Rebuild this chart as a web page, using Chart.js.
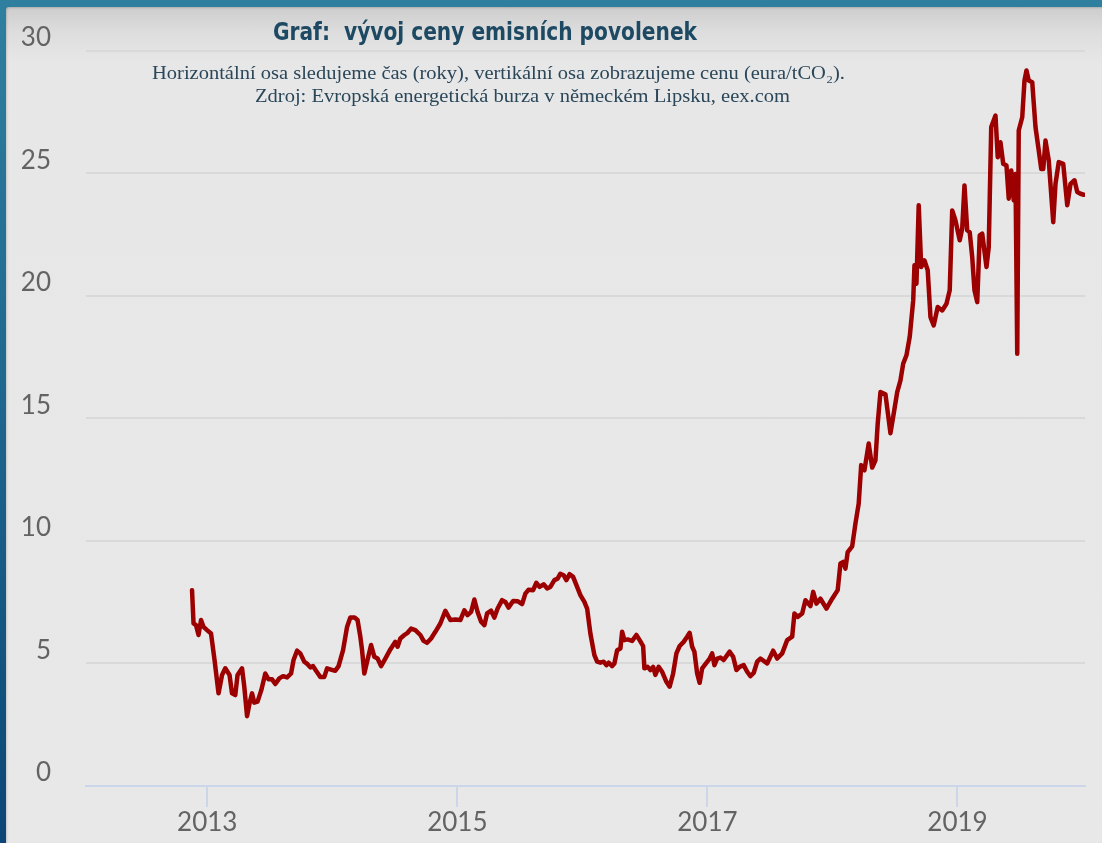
<!DOCTYPE html>
<html lang="cs">
<head>
<meta charset="utf-8">
<title>Graf: vývoj ceny emisních povolenek</title>
<script src="https://cdn.jsdelivr.net/npm/chart.js@4.4.1/dist/chart.umd.min.js"></script>
<style>
    html, body {
        margin: 0;
        padding: 0;
    }
    body {
        width: 1102px;
        height: 843px;
        overflow: hidden;
        position: relative;
        background: linear-gradient(180deg, #2f7f9f 0%, #1f6890 45%, #0b4676 100%);
    }
    #panel {
        position: absolute;
        left: 6px;
        top: 7px;
        right: 0;
        bottom: 0;
        border-top-left-radius: 3px;
        background: linear-gradient(180deg, #cdcdcd 0px, #dddddd 25px, #e7e7e7 55px, #e8e8e8 100%);
        box-shadow: inset 1px 1px 2px rgba(0, 0, 0, 0.15);
    }
    #chart {
        position: absolute;
        left: 0;
        top: 0;
    }
    .label {
        position: absolute;
        white-space: nowrap;
        transform-origin: left top;
    }
    #title {
        font-family: "Liberation Sans Narrow", "DejaVu Sans Condensed", "Liberation Sans", Arial, sans-serif;
        font-stretch: condensed;
        font-weight: bold;
        font-size: 24px;
        line-height: 24px;
        color: #1d4963;
    }
    .sub {
        font-family: "Liberation Serif", "Times New Roman", serif;
        font-size: 18px;
        line-height: 18px;
        color: #2a4659;
    }
</style>
</head>
<body>
<div id="panel"></div>
<canvas id="chart" width="1102" height="843"></canvas>
<div id="title" class="label">Graf:&nbsp; vývoj ceny emisních povolenek</div>
<div id="sub1" class="label sub">Horizontální osa sledujeme čas (roky), vertikální osa zobrazujeme cenu (eura/tCO₂).</div>
<div id="sub2" class="label sub">Zdroj: Evropská energetická burza v německém Lipsku, eex.com</div>

<script>
// data: time as decimal year, price in eura/tCO2
var years = [
    2012.878, 2012.890, 2012.910, 2012.930, 2012.950, 2012.970, 2012.998,
    2013.030, 2013.058, 2013.090, 2013.118, 2013.144, 2013.178, 2013.198, 2013.224, 2013.242, 2013.278,
    2013.296, 2013.318, 2013.338, 2013.358, 2013.376, 2013.402, 2013.432, 2013.464, 2013.490, 2013.518,
    2013.544, 2013.576, 2013.606, 2013.638, 2013.670, 2013.690, 2013.718, 2013.744, 2013.776, 2013.802,
    2013.824, 2013.846, 2013.870, 2013.904, 2013.936, 2013.958, 2013.990,
    2014.024, 2014.050, 2014.086, 2014.118, 2014.144, 2014.178, 2014.202, 2014.224, 2014.238, 2014.256,
    2014.278, 2014.310, 2014.336, 2014.362, 2014.390, 2014.424, 2014.464, 2014.504, 2014.522, 2014.544,
    2014.576, 2014.602, 2014.630, 2014.664, 2014.704, 2014.730, 2014.758, 2014.790, 2014.824, 2014.864,
    2014.904, 2014.944, 2014.984,
    2015.024, 2015.056, 2015.082, 2015.110, 2015.136, 2015.162, 2015.190, 2015.216, 2015.238, 2015.270,
    2015.296, 2015.322, 2015.358, 2015.384, 2015.410, 2015.446, 2015.482, 2015.518, 2015.544, 2015.570,
    2015.606, 2015.632, 2015.658, 2015.690, 2015.718, 2015.744, 2015.776, 2015.802, 2015.824, 2015.850,
    2015.872, 2015.898, 2015.926, 2015.958, 2015.984,
    2016.016, 2016.038, 2016.064, 2016.096, 2016.118, 2016.144, 2016.170, 2016.192, 2016.210, 2016.238,
    2016.256, 2016.278, 2016.304, 2016.318, 2016.336, 2016.362, 2016.398, 2016.432, 2016.458, 2016.486,
    2016.496, 2016.522, 2016.544, 2016.566, 2016.584, 2016.610, 2016.638, 2016.672, 2016.698, 2016.726,
    2016.752, 2016.778, 2016.810, 2016.838, 2016.858, 2016.878, 2016.896, 2016.918, 2016.938, 2016.958,
    2016.984,
    2017.018, 2017.038, 2017.056, 2017.078, 2017.104, 2017.130, 2017.158, 2017.178, 2017.206, 2017.232,
    2017.258, 2017.290, 2017.318, 2017.344, 2017.370, 2017.398, 2017.424, 2017.478, 2017.526, 2017.558,
    2017.598, 2017.638, 2017.678, 2017.696, 2017.722, 2017.758, 2017.784, 2017.824, 2017.846, 2017.872,
    2017.904, 2017.952, 2017.998,
    2018.042, 2018.064, 2018.086, 2018.104, 2018.122, 2018.158, 2018.184, 2018.210, 2018.230, 2018.256,
    2018.290, 2018.318, 2018.344, 2018.362, 2018.384, 2018.424, 2018.464, 2018.490, 2018.518, 2018.544,
    2018.566, 2018.592, 2018.618, 2018.646, 2018.656, 2018.672, 2018.690, 2018.710, 2018.736, 2018.762,
    2018.784, 2018.810, 2018.842, 2018.878, 2018.912, 2018.938, 2018.958, 2018.984,
    2019.018, 2019.038, 2019.056, 2019.078, 2019.098, 2019.118, 2019.136, 2019.158, 2019.178, 2019.198,
    2019.232, 2019.250, 2019.270, 2019.304, 2019.322, 2019.344, 2019.366, 2019.392, 2019.410, 2019.430,
    2019.450, 2019.464, 2019.478, 2019.490, 2019.518, 2019.536, 2019.552, 2019.570, 2019.598, 2019.624,
    2019.650, 2019.670, 2019.686, 2019.704, 2019.730, 2019.766, 2019.784, 2019.810, 2019.846, 2019.878,
    2019.904, 2019.936, 2019.958, 2019.984, 2020.010
];

var prices = [
    7.99, 6.63, 6.56, 6.16, 6.77, 6.49, 6.36,
    6.22, 5.14, 3.78, 4.53, 4.80, 4.53, 3.78, 3.71, 4.53, 4.80,
    4.05, 2.85, 3.37, 3.78, 3.40, 3.44, 3.91, 4.59, 4.35, 4.35,
    4.16, 4.39, 4.48, 4.43, 4.59, 5.14, 5.52, 5.41, 5.07, 4.97,
    4.84, 4.89, 4.70, 4.45, 4.45, 4.80, 4.75,
    4.70, 4.89, 5.54, 6.49, 6.87, 6.87, 6.77, 6.09, 5.54, 4.59,
    5.07, 5.75, 5.27, 5.20, 4.89, 5.20, 5.57, 5.88, 5.68, 6.02,
    6.16, 6.25, 6.42, 6.36, 6.16, 5.92, 5.84, 6.02, 6.29, 6.63,
    7.15, 6.77, 6.79,
    6.77, 7.17, 6.97, 7.10, 7.61, 7.10, 6.70, 6.56, 7.04, 7.15,
    6.87, 7.24, 7.58, 7.51, 7.28, 7.55, 7.54, 7.42, 7.85, 8.01,
    7.99, 8.29, 8.12, 8.23, 8.06, 8.12, 8.40, 8.46, 8.66, 8.60,
    8.40, 8.64, 8.53, 8.12, 7.79,
    7.51, 7.24, 6.22, 5.34, 5.07, 5.03, 5.07, 4.93, 5.03, 4.89,
    5.00, 5.54, 5.61, 6.29, 5.95, 5.98, 5.92, 6.16, 5.95, 5.71,
    4.80, 4.86, 4.73, 4.86, 4.53, 4.86, 4.66, 4.25, 4.05, 4.59,
    5.41, 5.71, 5.88, 6.09, 6.25, 5.68, 5.48, 4.59, 4.21, 4.80,
    4.97,
    5.20, 5.41, 4.93, 5.20, 5.24, 5.14, 5.34, 5.48, 5.27, 4.73,
    4.86, 4.93, 4.66, 4.48, 4.61, 5.07, 5.20, 5.00, 5.52, 5.20,
    5.41, 5.95, 6.09, 7.04, 6.90, 7.04, 7.58, 7.34, 7.92, 7.44,
    7.64, 7.24, 7.64,
    7.99, 9.08, 9.14, 8.87, 9.54, 9.78, 10.71, 11.52, 13.09, 12.88,
    13.97, 12.99, 13.29, 14.78, 16.07, 15.98, 14.39, 15.19, 16.07, 16.55,
    17.23, 17.57, 18.32, 19.81, 21.24, 20.49, 23.69, 21.17, 21.44, 21.04,
    19.13, 18.79, 19.54, 19.40, 19.67, 20.22, 23.48, 23.07,
    22.26, 22.74, 24.50, 22.67, 22.59, 21.57, 20.22, 19.74, 22.46, 22.53,
    21.17, 21.98, 26.88, 27.35, 25.65, 26.26, 25.38, 25.31, 23.96, 25.11,
    23.89, 24.97, 17.63, 26.74, 27.28, 28.78, 29.19, 28.78, 28.71, 26.88,
    25.93, 25.17, 25.17, 26.33, 25.52, 23.00, 24.56, 25.45, 25.38, 23.69,
    24.56, 24.71, 24.23, 24.16, 24.12
];

var yearTicks = [2013, 2015, 2017, 2019];
var priceTicks = [0, 5, 10, 15, 20, 25, 30];

var points = [];
for (var i = 0; i < years.length; i++) {
    points.push({ x: years[i], y: prices[i] });
}

var tickFont = { family: "Lato, 'Open Sans', sans-serif", size: 26 };

new Chart(document.getElementById("chart"), {
    type: 'line',
    data: {
        datasets: [{
            label: "Cena emisní povolenky",
            data: points,
            borderColor: "#9c0000",
            borderWidth: 4.5,
            borderJoinStyle: 'round',
            borderCapStyle: 'round',
            pointRadius: 0,
            tension: 0,
            fill: false
        }]
    },
    options: {
        responsive: false,
        animation: false,
        layout: {
            padding: { left: 0, right: 17, top: 50, bottom: 0 }
        },
        plugins: {
            legend: { display: false },
            tooltip: { enabled: false },
            title: { display: false }
        },
        scales: {
            x: {
                type: 'linear',
                min: 2012.03,
                max: 2020.02,
                afterBuildTicks: function (scale) {
                    scale.ticks = yearTicks.map(function (v) { return { value: v }; });
                },
                afterFit: function (scale) {
                    scale.height = 57;
                },
                ticks: {
                    font: tickFont,
                    color: "#636363",
                    padding: 0,
                    maxRotation: 0,
                    autoSkip: false,
                    callback: function (value) { return String(value); }
                },
                grid: {
                    drawOnChartArea: false,
                    drawTicks: true,
                    tickLength: 21,
                    color: "#ccd6eb",
                    lineWidth: 2
                },
                border: { display: true, color: "#ccd6eb", width: 2 }
            },
            y: {
                min: 0,
                max: 30,
                afterBuildTicks: function (scale) {
                    scale.ticks = priceTicks.map(function (v) { return { value: v }; });
                },
                afterFit: function (scale) {
                    scale.width = 86;
                },
                ticks: {
                    font: tickFont,
                    color: "#636363",
                    padding: 35,
                    labelOffset: -13
                },
                grid: {
                    drawTicks: false,
                    lineWidth: 2,
                    color: function (ctx) {
                        return ctx.tick && ctx.tick.value === 0 ? 'rgba(0,0,0,0)' : '#d9d9d9';
                    }
                },
                border: { display: false }
            }
        }
    }
});

// place the heading texts and squeeze them to the widths seen in the picture
function placeText(id, left, top, width) {
    var el = document.getElementById(id);
    el.style.left = left + 'px';
    el.style.top = top + 'px';
    var w = el.getBoundingClientRect().width;
    el.style.transform = 'scaleX(' + (width / w) + ')';
}

placeText("title", 273, 20, 424);
placeText("sub1", 152, 64, 693);
placeText("sub2", 255, 87, 535);
</script>
</body>
</html>
